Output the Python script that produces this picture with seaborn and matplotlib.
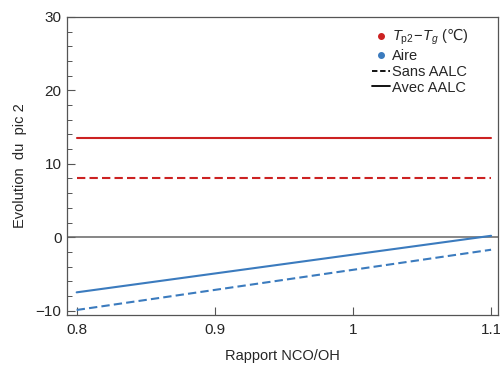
import pandas as pd
import matplotlib
matplotlib.use("Agg")
import matplotlib.pyplot as plt
import seaborn as sns
from matplotlib.lines import Line2D

# values
ratio = [0.8, 1.1]
tp2_tg_sans = [8.1, 8.1]
tp2_tg_avec = [13.5, 13.5]
aire_sans = [-9.9, -1.7]
aire_avec = [-7.5, 0.2]

red = "#CC2222"
blue = "#3B7BBE"

sns.set_style("white")
plt.rcParams["font.family"] = ["Liberation Sans", "DejaVu Sans"]
plt.rcParams["mathtext.fontset"] = "custom"
plt.rcParams["mathtext.rm"] = "Liberation Sans"
plt.rcParams["mathtext.it"] = "Liberation Sans:italic"
plt.rcParams["mathtext.sf"] = "DejaVu Sans"   # for the degree-celsius sign

# long table for seaborn
rows = []
for name, vals, cond in [("tp", tp2_tg_sans, "Sans"), ("tp", tp2_tg_avec, "Avec"),
                         ("aire", aire_sans, "Sans"), ("aire", aire_avec, "Avec")]:
    for x, y in zip(ratio, vals):
        rows.append({"ratio": x, "value": y, "serie": name, "cond": cond})
df = pd.DataFrame(rows)

fig = plt.figure(figsize=(5, 3.66), dpi=100)
ax = fig.add_axes([0.134, 0.139, 0.862, 0.815])

ax.axhline(0, color="#666666", lw=1.1, zorder=1)

sns.lineplot(data=df, x="ratio", y="value", hue="serie", style="cond",
             palette={"tp": red, "aire": blue},
             dashes={"Sans": (4, 2), "Avec": ""},
             lw=1.5, legend=False, ax=ax)

ax.set_xlim(0.793, 1.105)
ax.set_ylim(-10.6, 30)
ax.set_xticks([0.8, 0.9, 1.0, 1.1])
ax.set_xticklabels(["0.8", "0.9", "1", "1.1"])
ax.set_yticks([-10, 0, 10, 20, 30])
ax.set_yticklabels(["\u221210", "0", "10", "20", "30"])
ax.set_yticks(range(-10, 31, 2), minor=True)

ax.tick_params(axis="both", which="major", direction="in", length=6, width=0.8,
               color="#555555", labelsize=11, pad=4)
ax.tick_params(axis="x", which="major", pad=6)
ax.tick_params(axis="y", which="minor", direction="in", length=3.5, width=0.7,
               color="#555555", left=True)
ax.tick_params(bottom=True, left=True, top=False, right=False)

for s in ax.spines.values():
    s.set_color("#555555")
    s.set_linewidth(0.9)

ax.set_xlabel("Rapport NCO/OH", fontsize=10.5, labelpad=8)
ax.set_ylabel("Evolution  du  pic 2", fontsize=10.5, labelpad=6)

handles = [
    Line2D([], [], ls="", marker="o", ms=4, color=red),
    Line2D([], [], ls="", marker="o", ms=4, color=blue),
    Line2D([], [], ls=(0, (3, 1.5)), lw=1.3, color="black"),
    Line2D([], [], ls="-", lw=1.3, color="black"),
]
labels = [r"$T_{\mathrm{p2}}\!-\!T_g$ ($\mathsf{℃}$)", "Aire", "Sans AALC", "Avec AALC"]
ax.legend(handles, labels, loc="upper left", bbox_to_anchor=(0.684, 1.0),
          frameon=False, fontsize=10.5, handlelength=1.2, handletextpad=0.15,
          labelspacing=0.12, borderpad=0.2)

fig.savefig("out.png", dpi=100)
plt.close()
